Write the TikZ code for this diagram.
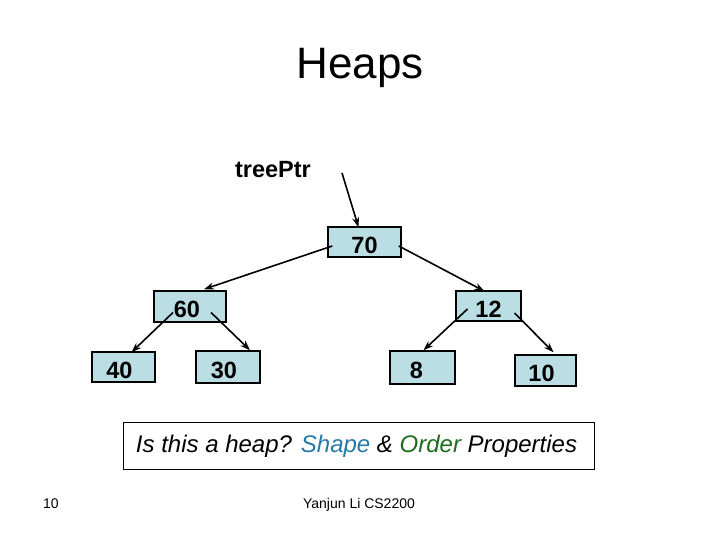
\documentclass[tikz,border=0pt]{standalone}
\usepackage{fontspec}
\setmainfont{Liberation Sans}
\usetikzlibrary{arrows.meta,calc}
\definecolor{boxfill}{RGB}{186,222,228}
\definecolor{shapeblue}{RGB}{38,122,168}
\definecolor{ordergreen}{RGB}{28,108,28}
\newcommand\boxtxt[2]{\hspace*{#1}#2}
\tikzset{
  heapbox/.style={draw=black, line width=1.5pt, fill=boxfill, inner sep=0pt,
    text height=22pt, text depth=0pt,
    font=\fontsize{23.5}{26}\selectfont\bfseries},
  ptr/.style={line width=1.6pt, -{Stealth[length=10pt,width=7pt]}},
}
\begin{document}
\begin{tikzpicture}[x=1pt,y=-1pt]
\useasboundingbox (0,0) rectangle (720,540);
% title
\node[font=\fontsize{44}{48}\selectfont] (title) at (360,68) {Heaps};
% pointer label
\node[font=\fontsize{23.5}{26}\selectfont\bfseries] (tp) at (273,170) {treePtr};
\coordinate (tpstart) at (342,173);
% boxes
\node[heapbox, minimum width=73pt, minimum height=30pt] (n70) at (364.5,242) {\boxtxt{0pt}{70}};
\node[heapbox, minimum width=72pt, minimum height=31pt] (n60) at (190,306.5) {\boxtxt{-6pt}{60}};
\node[heapbox, minimum width=65pt, minimum height=30pt] (n12) at (488.5,306) {\boxtxt{0pt}{12}};
\node[heapbox, minimum width=63pt, minimum height=30pt] (n40) at (123.5,367) {\boxtxt{-8pt}{40}};
\node[heapbox, minimum width=64pt, minimum height=32pt] (n30) at (228,367) {\boxtxt{-8pt}{30}};
\node[heapbox, minimum width=65pt, minimum height=33pt] (n8) at (422.5,367.5) {\boxtxt{-12pt}{8}};
\node[heapbox, minimum width=61pt, minimum height=31pt] (n10) at (545.5,370.5) {\boxtxt{-8pt}{10}};
% connector end points
\coordinate (s70l) at ($(n70.west)+(5,4)$);
\coordinate (s70r) at ($(n70.east)+(-3,4)$);
\coordinate (s60l) at ($(n60.center)+(-17,6)$);
\coordinate (s60r) at ($(n60.center)+(21,6)$);
\coordinate (s12l) at ($(n12.center)+(-21,3)$);
\coordinate (s12r) at ($(n12.center)+(26,7)$);
% connectors
\draw[ptr] (tpstart) -- ($(n70.north)+(-6,1)$);
\draw[ptr] (s70l) -- ($(n60.north)+(14,-1)$);
\draw[ptr] (s70r) -- ($(n12.north)+(-4,1)$);
\draw[ptr] (s60l) -- ($(n40.north)+(8,1)$);
\draw[ptr] (s60r) -- ($(n30.north)+(22,0)$);
\draw[ptr] (s12l) -- ($(n8.north)+(1,0)$);
\draw[ptr] (s12r) -- ($(n10.north)+(8,-2)$);
% caption box
\node[draw=black, line width=0.8pt, minimum width=471pt, minimum height=47pt, inner sep=0pt,
  font=\fontsize{24}{28}\selectfont\itshape] (cap) at (358.5,446)
  {\hspace*{-4pt}Is this a heap? \textcolor{shapeblue}{Shape} \& \textcolor{ordergreen}{Order} Properties};
% footer
\node[font=\fontsize{14}{16}\selectfont, anchor=base] (pg) at (51,508) {10};
\node[font=\fontsize{14}{16}\selectfont, anchor=base] (foot) at (359,508) {Yanjun Li CS2200};
\end{tikzpicture}
\end{document}
